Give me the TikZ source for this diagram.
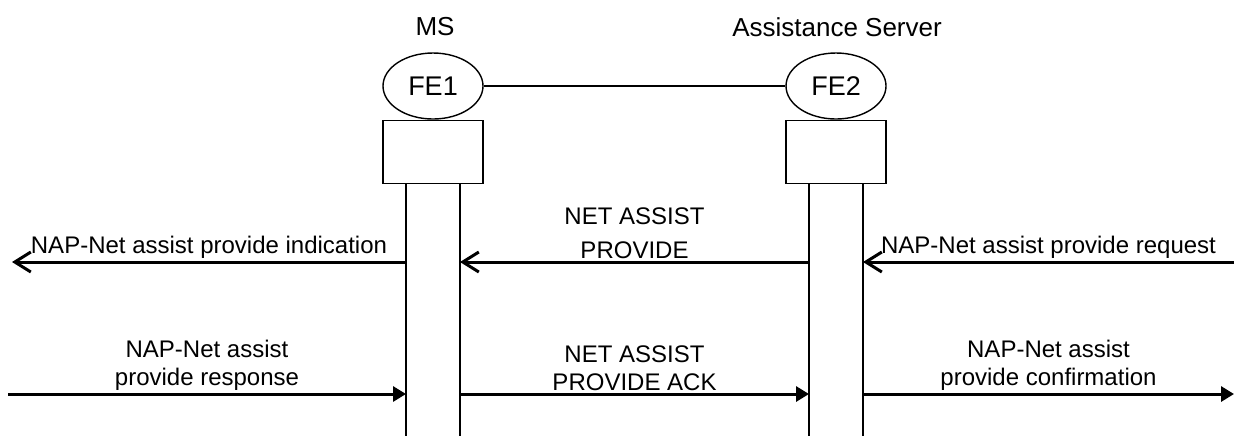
\documentclass[tikz,border=0pt]{standalone}
\usepackage{fontspec}
\setmainfont{Liberation Sans}
\usetikzlibrary{arrows.meta,positioning,shapes}
\tikzstyle{fe}=[draw, ellipse, line width=0.7pt, minimum width=50pt, minimum height=33pt, inner sep=0pt, font=\fontsize{13.5}{15}\selectfont]
\tikzstyle{block}=[draw, rectangle, line width=0.7pt, minimum width=50pt, minimum height=31.5pt, inner sep=0pt]
\tikzstyle{head}=[font=\fontsize{13}{15}\selectfont]
\tikzstyle{lifeline}=[line width=0.6pt]
\tikzstyle{req}=[line width=1.5pt, -{Straight Barb[length=8pt,width=10pt]}]
\tikzstyle{conf}=[line width=1.5pt, -{Triangle[length=6.5pt,width=7.5pt]}]
\tikzstyle{lbl}=[font=\fontsize{12}{14}\selectfont, align=center, above=0.8pt, inner sep=0pt]

\begin{document}
\begin{tikzpicture}[x=0.5pt, y=-0.5pt]
                        \useasboundingbox (0,0) rectangle (1234,436);
                        \node [fe] (fe1) at (433,86) {FE1};
                        \node [fe] (fe2) at (836,86) {FE2};
                        \node [head] (ms) at (435,27) {MS};
                        \node [head] (as) at (837,27) {Assistance Server};
                        \node [block, below=0pt of fe1] (b1) {};
                        \node [block, below=0pt of fe2] (b2) {};
                        \draw [line width=0.7pt] (fe1) -- (fe2);
                        % lifelines
                        \coordinate (ms-l) at ([xshift=-13.5pt]b1.south);
                        \coordinate (ms-r) at ([xshift=13.5pt]b1.south);
                        \coordinate (as-l) at ([xshift=-13.5pt]b2.south);
                        \coordinate (as-r) at ([xshift=13.5pt]b2.south);
                        \coordinate (bottom) at (0,436);
                        \draw [lifeline] (ms-l) -- (ms-l |- bottom);
                        \draw [lifeline] (ms-r) -- (ms-r |- bottom);
                        \draw [lifeline] (as-l) -- (as-l |- bottom);
                        \draw [lifeline] (as-r) -- (as-r |- bottom);
                        % message levels
                        \coordinate (lvl1) at (0,262);
                        \coordinate (lvl2) at (0,394);
                        \coordinate (out-l1) at (12,262);
                        \coordinate (out-r1) at (1234,262);
                        \coordinate (out-l2) at (8,394);
                        \coordinate (out-r2) at (1234,394);
                        \path[req] (ms-l |- lvl1) edge node[lbl] {NAP-Net assist provide indication} (out-l1);
                        \path[req] (as-l |- lvl1) edge node[lbl] {NET ASSIST\\[3pt]PROVIDE} (ms-r |- lvl1);
                        \path[req] (out-r1) edge node[lbl] {NAP-Net assist provide request} (as-r |- lvl1);
                        \path[conf] (out-l2) edge node[lbl] {NAP-Net assist\\provide response} (ms-l |- lvl2);
                        \path[conf] (ms-r |- lvl2) edge node[lbl] {NET ASSIST\\PROVIDE ACK} (as-l |- lvl2);
                        \path[conf] (as-r |- lvl2) edge node[lbl] {NAP-Net assist\\provide confirmation} (out-r2);
                    \end{tikzpicture}
\end{document}
